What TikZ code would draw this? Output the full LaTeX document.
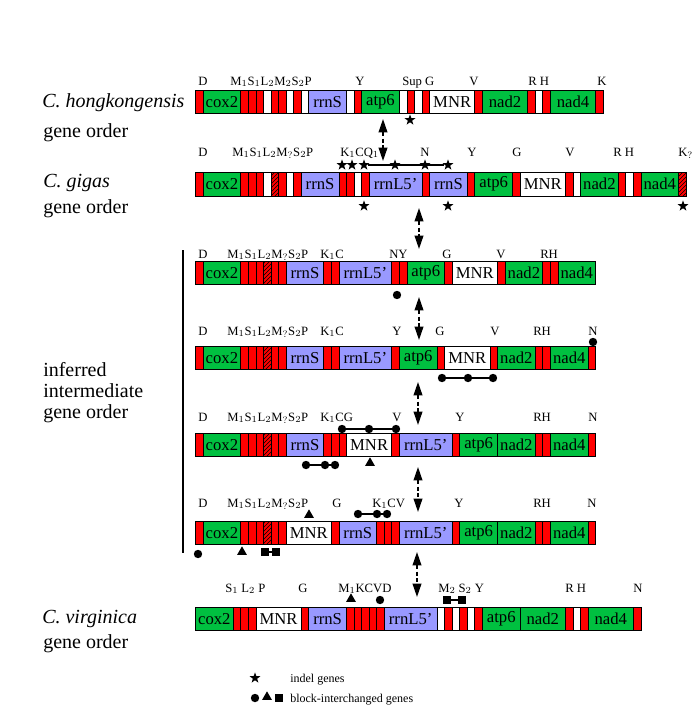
\documentclass[tikz,border=0pt]{standalone}
\usepackage{fontspec}
\setmainfont{Liberation Serif}
\usetikzlibrary{shapes.geometric,patterns,arrows.meta}

\definecolor{genegreen}{RGB}{0,192,64}
\definecolor{rrnablue}{RGB}{153,153,255}
\definecolor{trnared}{RGB}{255,0,0}

\tikzset{
  seg/.style={draw=black, line width=0.6pt, inner sep=0pt, outer sep=0pt,
    minimum height=17.6pt, font=\fontsize{12.5}{14}\selectfont},
  trn/.style={fill=trnared},
  gap/.style={fill=white},
  hat/.style={preaction={fill=trnared}, pattern=north east lines},
  pcg/.style={fill=genegreen},
  rrn/.style={fill=rrnablue},
  mnr/.style={fill=white},
  tlab/.style={anchor=base west, inner sep=0pt, font=\fontsize{9.5}{11}\selectfont},
  spname/.style={anchor=base west, inner sep=0pt, font=\fontsize{15}{16}\selectfont},
  legtext/.style={anchor=base west, inner sep=0pt, font=\fontsize{9}{10}\selectfont},
  indel/.style={star, star points=5, star point ratio=2.5, fill=black, inner sep=0pt, minimum size=8.5pt},
  bdot/.style={circle, fill=black, inner sep=0pt, minimum size=6.3pt},
  btri/.style={regular polygon, regular polygon sides=3, fill=black, inner sep=0pt, minimum size=8.5pt},
  bsq/.style={rectangle, fill=black, inner sep=0pt, minimum size=5.3pt},
  link/.style={line width=0.8pt},
  dbl/.style={{Triangle[width=6.5pt,length=10pt]}-{Triangle[width=6.5pt,length=10pt]},
    line width=1.2pt, dash pattern=on 3pt off 2pt}
}

% one gene order as a row of boxes: #1 name, #2 top, #3 kind/units/label
\newcommand{\generow}[3]{%
  \xdef\segx{195.5}%
  \foreach \kind/\w/\gname [count=\i] in {#3}{
    \pgfmathsetmacro\segw{\w*7.55*0.75}
    \node[seg, \kind, minimum width=\segw pt, anchor=north west] (#1-\i) at (\segx,#2) {\gname};
    \pgfmathsetmacro\segnext{\segx+\w*7.55}
    \xdef\segx{\segnext}
  }}

\begin{document}
\begin{tikzpicture}[x=0.75pt,y=0.75pt,yscale=-1]
\useasboundingbox (0,0) rectangle (694,711);

% species names
\node[spname] (hk) at (42,107) {\textit{C. hongkongensis}};
\node[spname] (hkorder) at (43,137) {gene order};
\node[spname] (gg) at (43,187) {\textit{C. gigas}};
\node[spname] (ggorder) at (43,213) {gene order};
\node[spname, align=left, anchor=north west, font=\fontsize{15}{15.75}\selectfont] (inter) at (43,362) {inferred\\intermediate\\gene order};
\node[spname] (vg) at (42,623) {\textit{C. virginica}};
\node[spname] (vgorder) at (43,648) {gene order};
\draw[line width=1pt] (183,250) -- (183,553);

% gene orders
\generow{hk}{90}{trn/1/, pcg/5/cox2, trn/1/, trn/1/, trn/1/, gap/1/, trn/1/, trn/1/, gap/1/, trn/1/, gap/1/,
  rrn/5/rrnS, gap/1/, trn/1/, pcg/5/atp6, gap/1/, trn/1/, gap/1/, trn/1/, mnr/6/MNR, trn/1/, pcg/6/nad2,
  trn/1/, gap/1/, trn/1/, pcg/6/nad4, trn/1/}
\generow{gg}{172.5}{trn/1/, pcg/5/cox2, trn/1/, trn/1/, trn/1/, gap/1/, hat/1/, trn/1/, gap/1/, trn/1/,
  rrn/5/rrnS, trn/1/, trn/1/, gap/1/, trn/1/, rrn/7/rrnL5', trn/1/, rrn/5/rrnS, trn/1/, pcg/5/atp6, trn/1/,
  mnr/6/MNR, trn/1/, gap/1/, pcg/5/nad2, trn/1/, gap/1/, trn/1/, pcg/5/nad4, hat/1/}
\generow{in1}{261}{trn/1/, pcg/5/cox2, trn/1/, trn/1/, trn/1/, hat/1/, trn/1/, trn/1/, rrn/5/rrnS, trn/1/,
  trn/1/, rrn/7/rrnL5', trn/1/, trn/1/, pcg/5/atp6, trn/1/, mnr/6/MNR, trn/1/, pcg/5/nad2, trn/1/, trn/1/,
  pcg/5/nad4}
\generow{in2}{346}{trn/1/, pcg/5/cox2, trn/1/, trn/1/, trn/1/, hat/1/, trn/1/, trn/1/, rrn/5/rrnS, trn/1/,
  trn/1/, rrn/7/rrnL5', trn/1/, pcg/5/atp6, trn/1/, mnr/6/MNR, trn/1/, pcg/5/nad2, trn/1/, trn/1/,
  pcg/5/nad4, trn/1/}
\generow{in3}{433}{trn/1/, pcg/5/cox2, trn/1/, trn/1/, trn/1/, hat/1/, trn/1/, trn/1/, rrn/5/rrnS, trn/1/,
  trn/1/, trn/1/, mnr/6/MNR, trn/1/, rrn/7/rrnL5', trn/1/, pcg/5/atp6, pcg/5/nad2, trn/1/, trn/1/,
  pcg/5/nad4, trn/1/}
\generow{in4}{521}{trn/1/, pcg/5/cox2, trn/1/, trn/1/, trn/1/, hat/1/, trn/1/, trn/1/, mnr/6/MNR, trn/1/,
  rrn/5/rrnS, trn/1/, trn/1/, trn/1/, rrn/7/rrnL5', trn/1/, pcg/5/atp6, pcg/5/nad2, trn/1/, trn/1/,
  pcg/5/nad4, trn/1/}
\generow{vg}{607}{pcg/5/cox2, trn/1/, trn/1/, trn/1/, mnr/6/MNR, trn/1/, rrn/5/rrnS, trn/1/, trn/1/, trn/1/,
  trn/1/, trn/1/, rrn/7/rrnL5', gap/1/, trn/1/, gap/1/, trn/1/, gap/1/, trn/1/, pcg/5/atp6, pcg/6/nad2,
  trn/1/, gap/1/, trn/1/, pcg/6/nad4, trn/1/}

% tRNA names
\foreach \x/\t [count=\k] in {198/D, 230/{M$_1$S$_1$L$_2$M$_2$S$_2$P}, 355/Y, 402/{Sup G}, 469/V, 528/{R H}, 597/K}
  \node[tlab] (hkl-\k) at (\x,85) {\t};
\foreach \x/\t [count=\k] in {198/D, 232/{M$_1$S$_1$L$_2$M$_?$S$_2$P}, 340/{K$_1$CQ$_1$}, 420/N, 467/Y, 512/G,
  565/V, 613/{R H}, 678/{K$_?$}}
  \node[tlab] (ggl-\k) at (\x,156) {\t};
\foreach \x/\t [count=\k] in {198/D, 227/{M$_1$S$_1$L$_2$M$_?$S$_2$P}, 320/{K$_1$C}, 389/NY, 442/G, 496/V, 540/RH}
  \node[tlab] (in1l-\k) at (\x,258) {\t};
\foreach \x/\t [count=\k] in {198/D, 227/{M$_1$S$_1$L$_2$M$_?$S$_2$P}, 320/{K$_1$C}, 392/Y, 435/G, 490/V,
  533/RH, 588/N}
  \node[tlab] (in2l-\k) at (\x,335) {\t};
\foreach \x/\t [count=\k] in {198/D, 227/{M$_1$S$_1$L$_2$M$_?$S$_2$P}, 320/{K$_1$CG}, 392/V, 455/Y, 533/RH, 588/N}
  \node[tlab] (in3l-\k) at (\x,421) {\t};
\foreach \x/\t [count=\k] in {198/D, 227/{M$_1$S$_1$L$_2$M$_?$S$_2$P}, 332/G, 372/{K$_1$CV}, 454/Y, 533/RH, 587/N}
  \node[tlab] (in4l-\k) at (\x,507) {\t};
\foreach \x/\t [count=\k] in {225/{S$_1$ L$_2$ P}, 298/G, 338/{M$_1$KCVD}, 438/{M$_2$ S$_2$ Y}, 565/{R H}, 633/N}
  \node[tlab] (vgl-\k) at (\x,592) {\t};

% indel genes
\node[indel] (hks-1) at (410,120) {};
\foreach \x [count=\k] in {342,352,364,395,425,448}
  \node[indel] (ggs-\k) at (\x,165) {};
\draw[link] (ggs-3) -- (ggs-6);
\foreach \x [count=\k] in {364,448,683}
  \node[indel] (ggb-\k) at (\x,206) {};

% block-interchanged genes
\node[bdot] (in1d) at (397,295) {};
\node[bdot] (in2n) at (593,342) {};
\foreach \x [count=\k] in {442,468,493}
  \node[bdot] (in2d-\k) at (\x,378) {};
\draw[link] (in2d-1) -- (in2d-3);
\foreach \x [count=\k] in {342,369,396}
  \node[bdot] (in3u-\k) at (\x,429) {};
\draw[link] (in3u-1) -- (in3u-3);
\foreach \x [count=\k] in {306,325,335}
  \node[bdot] (in3d-\k) at (\x,465) {};
\draw[link] (in3d-1) -- (in3d-3);
\node[btri] (in3t) at (370,463) {};
\node[btri] (in4t) at (309,515) {};
\foreach \x [count=\k] in {358,377,387}
  \node[bdot] (in4u-\k) at (\x,514) {};
\draw[link] (in4u-1) -- (in4u-3);
\node[bdot] (in4d) at (198,554) {};
\node[btri] (in4tb) at (242,552) {};
\node[bsq] (in4q-1) at (265,552) {};
\node[bsq] (in4q-2) at (276,552) {};
\draw[link] (in4q-1) -- (in4q-2);
\node[btri] (vgt) at (351,599) {};
\node[bdot] (vgd) at (380,600) {};
\node[bsq] (vgq-1) at (447,600) {};
\node[bsq] (vgq-2) at (462,600) {};
\draw[link] (vgq-1) -- (vgq-2);

% rearrangement steps
\coordinate (st1a) at (383,119); \coordinate (st1b) at (383,161);
\coordinate (st2a) at (419,208); \coordinate (st2b) at (419,249);
\coordinate (st3a) at (419,297); \coordinate (st3b) at (419,340);
\coordinate (st4a) at (418,382); \coordinate (st4b) at (418,425);
\coordinate (st5a) at (418,467); \coordinate (st5b) at (418,512);
\coordinate (st6a) at (417,552); \coordinate (st6b) at (417,597);
\foreach \s in {1,...,6}
  \draw[dbl] (st\s a) -- (st\s b);

% legend
\node[indel] (legstar) at (255,678) {};
\node[legtext] (legindel) at (290,682) {indel genes};
\node[bdot] (legdot) at (255,698) {};
\node[btri] (legtri) at (267,697) {};
\node[bsq] (legsq) at (279,698) {};
\node[legtext] (legblock) at (290,702) {block-interchanged genes};

\end{tikzpicture}
\end{document}
